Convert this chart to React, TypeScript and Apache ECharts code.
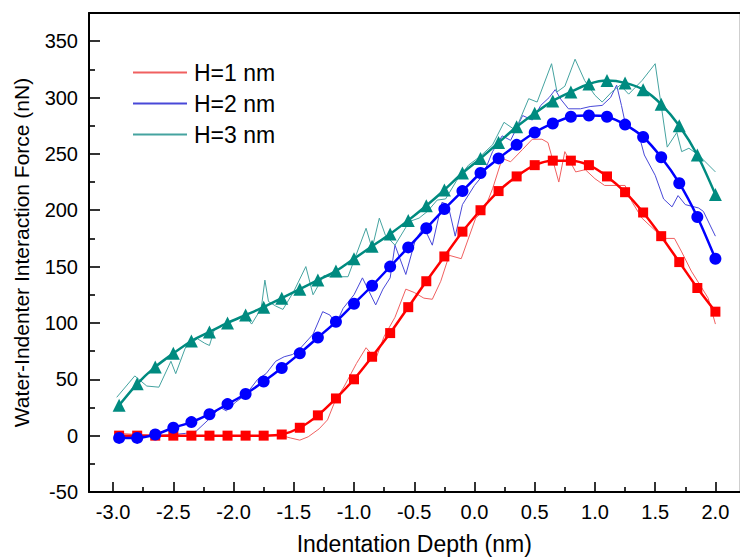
import React, { useEffect, useRef } from "react";
import * as echarts from "echarts";

const depthFit = [
  -2.95, -2.8, -2.65, -2.5, -2.35, -2.2, -2.05, -1.9, -1.75, -1.6, -1.45, -1.3,
  -1.15, -1.0, -0.85, -0.7, -0.55, -0.4, -0.25, -0.1, 0.05, 0.2, 0.35, 0.5, 0.65,
  0.8, 0.95, 1.1, 1.25, 1.4, 1.55, 1.7, 1.85, 2.0,
];
const fitH1 = [
  0, 0, 0, 0, 0, 0, 0, 0, 0, 1, 7, 18, 33, 50, 70, 91, 114, 137, 159, 181, 200,
  217, 230, 240, 244, 244, 240, 230, 216, 198, 177, 154, 131, 110,
];
const fitH2 = [
  -2, -2, 1, 7, 12, 19, 28, 37, 48, 60, 73, 87, 101, 117, 133, 150, 167, 184, 201,
  217, 233, 246, 258, 269, 277, 283, 284, 283, 276, 265, 247, 224, 194, 157,
];
const fitH3 = [
  27, 46, 61, 73, 84, 92, 100, 107, 114, 122, 130, 138, 146, 157, 168, 179, 191,
  204, 218, 233, 246, 260, 274, 286, 297, 305, 312, 315, 313, 307, 294, 275, 249, 214,
];
const rawH1: [number, number][] = [
  [-2.95, 2], [-2.8, 1], [-2.6, 0], [-2.4, 0], [-2.2, 0], [-2.0, 0], [-1.8, 0],
  [-1.6, 0], [-1.53, -2], [-1.45, -4], [-1.38, -1], [-1.29, 6], [-1.22, 14],
  [-1.16, 30], [-1.08, 44], [-0.98, 64], [-0.9, 78], [-0.82, 68], [-0.75, 88],
  [-0.66, 105], [-0.57, 130], [-0.5, 127], [-0.42, 122], [-0.35, 121], [-0.28, 137],
  [-0.21, 160], [-0.11, 157], [0.01, 193], [0.08, 200], [0.15, 219], [0.23, 246],
  [0.3, 243], [0.4, 254], [0.48, 263], [0.56, 263], [0.61, 260], [0.7, 225],
  [0.75, 252], [0.84, 234], [0.92, 236], [1.0, 228], [1.08, 222], [1.25, 222],
  [1.31, 207], [1.39, 193], [1.5, 182], [1.58, 175], [1.66, 175], [1.72, 163],
  [1.8, 146], [1.87, 134], [1.94, 122], [2.0, 99],
];
const rawH2: [number, number][] = [
  [-2.95, -1], [-2.8, -1], [-2.65, 0], [-2.5, 1], [-2.4, 2], [-2.31, 4], [-2.2, 15],
  [-2.11, 25], [-2.06, 22], [-1.98, 30], [-1.9, 36], [-1.8, 50], [-1.73, 55],
  [-1.65, 66], [-1.58, 70], [-1.51, 72], [-1.45, 77], [-1.34, 90], [-1.26, 110],
  [-1.2, 107], [-1.15, 99], [-1.09, 113], [-1.0, 125], [-0.93, 140], [-0.82, 116],
  [-0.76, 130], [-0.7, 140], [-0.66, 169], [-0.57, 143], [-0.49, 174], [-0.42, 185],
  [-0.35, 169], [-0.27, 207], [-0.22, 205], [-0.16, 177], [-0.1, 205], [0.0, 222],
  [0.07, 231], [0.15, 252], [0.23, 266], [0.3, 262], [0.4, 284], [0.48, 280],
  [0.55, 293], [0.62, 300], [0.67, 307], [0.72, 298], [0.78, 290], [0.88, 290],
  [0.96, 292], [1.06, 293], [1.13, 300], [1.18, 311], [1.22, 293], [1.25, 278],
  [1.3, 272], [1.36, 269], [1.41, 249], [1.5, 231], [1.57, 210], [1.64, 203],
  [1.69, 213], [1.75, 205], [1.86, 202], [1.9, 199], [2.0, 177],
];
const rawH3: [number, number][] = [
  [-2.97, 34], [-2.82, 53], [-2.72, 44], [-2.62, 43], [-2.52, 66], [-2.48, 55],
  [-2.4, 78], [-2.3, 86], [-2.24, 82], [-2.2, 80], [-2.16, 94], [-2.06, 100],
  [-1.99, 103], [-1.9, 106], [-1.85, 99], [-1.77, 113], [-1.74, 138], [-1.71, 119],
  [-1.65, 115], [-1.59, 112], [-1.5, 128], [-1.4, 150], [-1.34, 125], [-1.25, 142],
  [-1.2, 141], [-1.05, 141], [-0.9, 184], [-0.85, 166], [-0.79, 193], [-0.74, 178],
  [-0.66, 169], [-0.54, 190], [-0.46, 193], [-0.39, 199], [-0.31, 209], [-0.24, 210],
  [-0.15, 226], [-0.05, 240], [0.05, 248], [0.15, 258], [0.245, 278], [0.34, 271],
  [0.45, 299], [0.52, 296], [0.64, 330], [0.685, 305], [0.75, 310], [0.835, 334],
  [0.915, 315], [1.0, 302], [1.06, 296], [1.14, 305], [1.21, 311], [1.28, 303],
  [1.39, 315], [1.5, 330], [1.6, 256], [1.68, 269], [1.72, 252], [1.78, 255],
  [1.86, 249], [2.0, 234],
];

const seriesNames = ["H=1 nm", "H=2 nm", "H=3 nm"];
const xTicks = [-3.0, -2.5, -2.0, -1.5, -1.0, -0.5, 0.0, 0.5, 1.0, 1.5, 2.0];
const xMinorTicks = [-2.75, -2.25, -1.75, -1.25, -0.75, -0.25, 0.25, 0.75, 1.25, 1.75];
const yTicks = [-50, 0, 50, 100, 150, 200, 250, 300, 350];
const yMinorTicks = [-25, 25, 75, 125, 175, 225, 275, 325];

const FONT = "'Liberation Sans', Arial, sans-serif";
const X_MIN = -3.2;
const X_MAX = 2.2;
const Y_MIN = -50;
const Y_MAX = 375;

export default function App() {
  const ref = useRef<HTMLDivElement>(null);
  useEffect(() => {
    if (!ref.current) return;
    const chart = echarts.init(ref.current, undefined, { renderer: "svg" });
    const pair = (ys: number[]) => depthFit.map((d, i) => [d, ys[i]]);
    const raw = (name: string, data: [number, number][], color: string) => ({
      type: "line",
      name,
      data,
      symbol: "none",
      lineStyle: { width: 1, color },
      itemStyle: { color },
      z: 2,
    });
    const fit = (name: string, ys: number[], color: string, symbol: string, size: number) => ({
      type: "line",
      name,
      data: pair(ys),
      symbol,
      symbolSize: size,
      smooth: 0.25,
      lineStyle: { width: 2.5, color },
      itemStyle: { color },
      z: 3,
    });
    // Tick-only axes: each is placed on the zero of a helper axis whose zero sits at the grid edge
    const tickAxisX = (values: number[], len: number) => ({
      type: "value",
      min: X_MIN,
      max: X_MAX,
      position: "bottom",
      axisLine: { show: false, onZero: true, onZeroAxisIndex: 2 },
      axisTick: { show: true, inside: true, length: len, customValues: values, lineStyle: { color: "#000", width: 1.6 } },
      axisLabel: { show: false },
      splitLine: { show: false },
    });
    const tickAxisY = (values: number[], len: number) => ({
      type: "value",
      min: Y_MIN,
      max: Y_MAX,
      position: "left",
      axisLine: { show: false, onZero: true, onZeroAxisIndex: 4 },
      axisTick: { show: true, inside: true, length: len, customValues: values, lineStyle: { color: "#000", width: 1.6 } },
      axisLabel: { show: false },
      splitLine: { show: false },
    });
    const helper = { type: "value", min: 0, max: 1, show: false };
    chart.setOption({
      animation: false,
      textStyle: { fontFamily: FONT },
      grid: { left: 89, top: 13, width: 650.5, height: 483 },
      legend: {
        data: seriesNames,
        orient: "vertical",
        left: 128,
        top: 56,
        icon: "rect",
        itemWidth: 54,
        itemHeight: 2,
        itemGap: 8,
        textStyle: { fontSize: 23, color: "#000", fontFamily: FONT, padding: [0, 0, 0, 2] },
      },
      xAxis: [
        {
          type: "value",
          min: X_MIN,
          max: X_MAX,
          position: "bottom",
          axisLine: { onZero: false, lineStyle: { color: "#000", width: 2 } },
          axisTick: { show: false },
          axisLabel: {
            customValues: xTicks,
            formatter: (v: number) => v.toFixed(1),
            margin: 10,
            fontSize: 20,
            color: "#000",
            fontFamily: FONT,
          },
          splitLine: { show: false },
          name: "Indentation Depth (nm)",
          nameLocation: "middle",
          nameGap: 40,
          nameTextStyle: { fontSize: 23, color: "#000", fontFamily: FONT },
        },
        {
          type: "value",
          min: X_MIN,
          max: X_MAX,
          position: "top",
          axisLine: { onZero: false, lineStyle: { color: "#000", width: 2 } },
          axisTick: { show: false },
          axisLabel: { show: false },
          splitLine: { show: false },
        },
        tickAxisX(xTicks, 10),
        tickAxisX(xMinorTicks, 5),
        { ...helper, position: "top" },
      ],
      yAxis: [
        {
          type: "value",
          min: Y_MIN,
          max: Y_MAX,
          position: "left",
          axisLine: { onZero: false, lineStyle: { color: "#000", width: 2 } },
          axisTick: { show: false },
          axisLabel: { customValues: yTicks, margin: 11, fontSize: 20, color: "#000", fontFamily: FONT },
          splitLine: { show: false },
          name: "Water-Indenter Interaction Force (nN)",
          nameLocation: "middle",
          nameGap: 57,
          nameTextStyle: { fontSize: 21, color: "#000", fontFamily: FONT },
        },
        {
          type: "value",
          min: Y_MIN,
          max: Y_MAX,
          position: "right",
          axisLine: { onZero: false, lineStyle: { color: "#cfcfcf", width: 1 } },
          axisTick: { show: false },
          axisLabel: { show: false },
          splitLine: { show: false },
        },
        { ...helper, position: "right" },
        tickAxisY(yTicks, 11),
        tickAxisY(yMinorTicks, 6),
      ],
      series: [
        raw(seriesNames[0], rawH1, "#f06060"),
        raw(seriesNames[1], rawH2, "#4848d8"),
        raw(seriesNames[2], rawH3, "#45a3a0"),
        fit("H=1 nm fit", fitH1, "#ff0000", "rect", 10),
        fit("H=2 nm fit", fitH2, "#0000ff", "circle", 12),
        fit("H=3 nm fit", fitH3, "#008b80", "triangle", 13),
      ],
    });
    return () => chart.dispose();
  }, []);
  return (
    <div
      ref={ref}
      style={{ position: "absolute", left: 0, top: 0, width: 740, height: 560, background: "#fff" }}
    />
  );
}
